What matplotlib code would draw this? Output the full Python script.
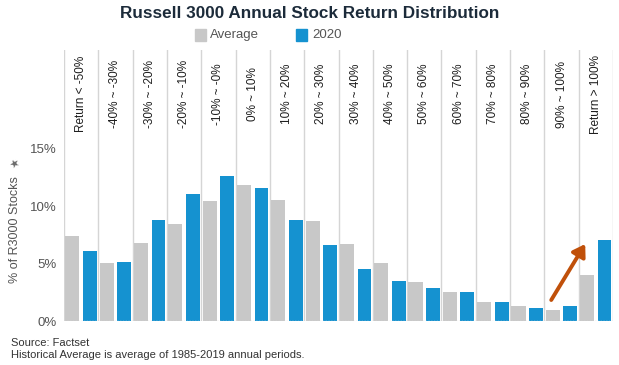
import matplotlib
matplotlib.use("Agg")
import matplotlib.pyplot as plt
from matplotlib.patches import Rectangle
import numpy as np

plt.rcParams["font.family"] = ["Liberation Sans", "DejaVu Sans"]

# return buckets and share of Russell 3000 stocks (%)
buckets = ["Return < -50%", "-40% ~ -30%", "-30% ~ -20%", "-20% ~ -10%", "-10% ~ -0%",
           "0% ~ 10%", "10% ~ 20%", "20% ~ 30%", "30% ~ 40%", "40% ~ 50%",
           "50% ~ 60%", "60% ~ 70%", "70% ~ 80%", "80% ~ 90%", "90% ~ 100%",
           "Return > 100%"]
average = [7.4, 5.1, 6.8, 8.45, 10.5, 11.9, 10.55, 8.7, 6.7, 5.05, 3.4, 2.5, 1.7, 1.3, 0.95, 4.0]
y2020 = [6.1, 5.15, 8.8, 11.1, 12.65, 11.6, 8.8, 6.6, 4.5, 3.5, 2.9, 2.5, 1.65, 1.1, 1.3, 7.05]
yticks = [0, 5, 10, 15]

GRAY = "#C8C8C8"
BLUE = "#1592D0"
TEXT = "#555555"

W, H = 619, 365
fig = plt.figure(figsize=(W / 100, H / 100), dpi=100)
# axes covers header band + plot (pixels 50..321 from top)
ax = fig.add_axes([64 / W, (H - 321) / H, (613 - 64) / W, (321 - 50) / H])

x = np.arange(len(buckets))
ax.bar(x - 0.255, average, width=0.41, color=GRAY, zorder=2)
ax.bar(x + 0.255, y2020, width=0.40, color=BLUE, zorder=2)

ax.set_xlim(-0.5, len(buckets) - 0.5)
ax.set_ylim(0, 271 / 11.47)
for b in np.arange(len(buckets) + 1) - 0.5:
    ax.axvline(b, color="#D5D5D5", linewidth=1, zorder=1)
ax.axhline(0, color="#D8D8D8", linewidth=1, linestyle=(0, (1, 1)), zorder=3)

ax.set_yticks(yticks)
ax.set_yticklabels([f"{t}%" for t in yticks], color=TEXT, fontsize=9.5)
ax.tick_params(axis="y", length=0, pad=5)
ax.set_xticks([])
for s in ax.spines.values():
    s.set_visible(False)

# header labels
for i, lab in enumerate(buckets):
    ax.text(i, (321 - 94) / 271, lab, rotation=90, ha="center", va="center",
            fontsize=8.5, color="#1E1E1E", transform=ax.get_xaxis_transform())

fig.text(15 / W, 1 - 230 / H, "% of R3000 Stocks", rotation=90, ha="center", va="center",
         color=TEXT, fontsize=9)
fig.text(15 / W, 1 - 165 / H, "\u2605", ha="center", va="center", color="#6A6A6A",
         fontsize=8, rotation=30, family="DejaVu Sans")

# arrow
ax.annotate("", xy=(14.69, 6.71), xytext=(13.70, 1.83),
            arrowprops=dict(arrowstyle="-|>,head_length=0.7,head_width=0.45",
                            color="#C0500A", lw=2.8, shrinkA=0, shrinkB=0))

fig.text(310 / W, 1 - 13 / H, "Russell 3000 Annual Stock Return Distribution",
         ha="center", va="center", fontsize=12.3, fontweight="bold", color="#1C2B3A")

# legend
fig.patches.append(Rectangle((195 / W, 1 - 41 / H), 11 / W, 12 / H,
                             transform=fig.transFigure, color=GRAY))
fig.text(210 / W, 1 - 35 / H, "Average", ha="left", va="center", fontsize=9.5, color=TEXT)
fig.patches.append(Rectangle((296 / W, 1 - 41 / H), 11 / W, 12 / H,
                             transform=fig.transFigure, color=BLUE))
fig.text(312 / W, 1 - 35 / H, "2020", ha="left", va="center", fontsize=9.5, color=TEXT)

fig.text(11 / W, 1 - 343 / H, "Source: Factset", fontsize=8, color="#333333", va="center")
fig.text(11 / W, 1 - 355 / H, "Historical Average is average of 1985-2019 annual periods.",
         fontsize=8, color="#333333", va="center")

fig.savefig("out.png", dpi=100)
